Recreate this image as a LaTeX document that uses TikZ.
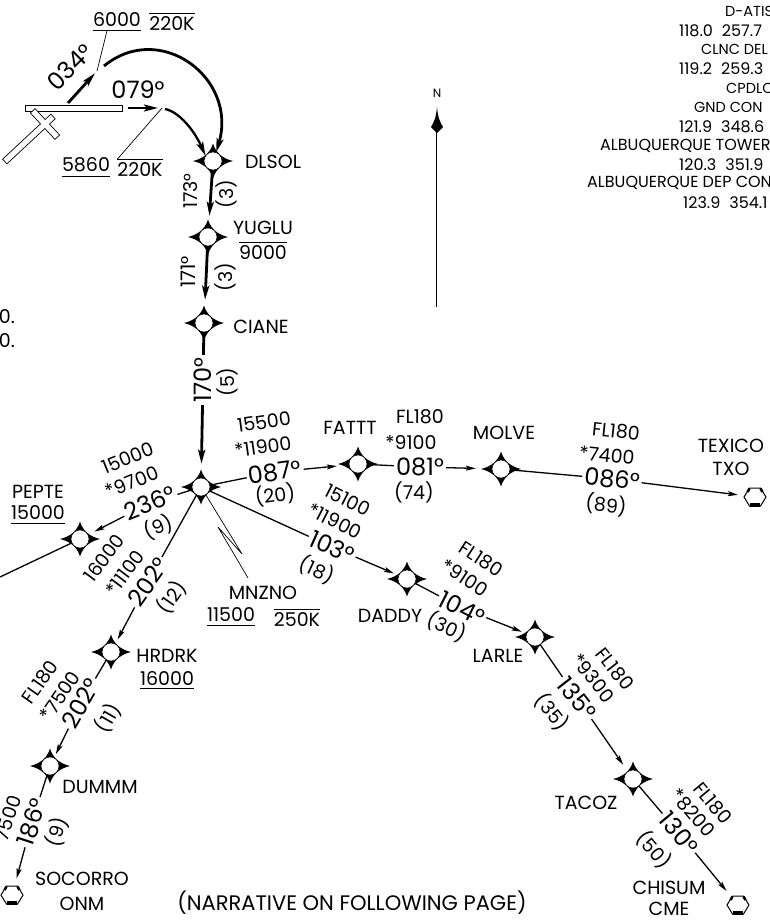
\documentclass[tikz,border=0pt]{standalone}
\usepackage{fontspec}
\setmainfont{Poppins}[Numbers=Monospaced]
\usetikzlibrary{arrows.meta}
\begin{document}
\begin{tikzpicture}[x=1pt, y=-1pt,
txt/.style={inner sep=0pt, font=\fontsize{19}{21}\selectfont},
hdg/.style={inner sep=2pt, font=\fontsize{24}{26}\selectfont},
freq/.style={inner sep=0pt, anchor=west, font=\fontsize{16}{18}\selectfont},
freqsmall/.style={freq, font=\fontsize{14.5}{16}\selectfont},
underalt/.style={inner ysep=3.5pt, append after command={(\tikzlastnode.south west) edge[line width=.7pt] (\tikzlastnode.south east)}},
overalt/.style={inner ysep=3.5pt, append after command={(\tikzlastnode.north west) edge[line width=.7pt] (\tikzlastnode.north east)}},
fixnode/.style={circle, inner sep=0pt, minimum size=18pt},
navnode/.style={circle, inner sep=0pt, minimum size=20pt},
route/.style={line width=1.3pt},
routearrow/.style={line width=1.3pt, -{Stealth[length=10pt,width=5pt,inset=2pt]}},
heavy/.style={line width=2.8pt, -{Stealth[length=14pt,width=7pt,inset=3pt]}},
leader/.style={line width=.7pt},
fixstar/.pic={
  \fill (0,-17.5) .. controls (2.5,-9) and (9,-2.5) .. (20,0) .. controls (9,2.5) and (2.5,9) .. (0,17.5) .. controls (-2.5,9) and (-9,2.5) .. (-20,0) .. controls (-9,-2.5) and (-2.5,-9) .. (0,-17.5) -- cycle;
  \draw[line width=.5pt, fill=white] (0,0) circle [radius=9];
},
navhex/.pic={
  \draw[line width=1pt, fill=white] (-5.5,-9) -- (5.5,-9) -- (11,0) -- (5.5,9) -- (-5.5,9) -- (-11,0) -- cycle;
  \draw[line width=2.5pt] (-5.5,-8.5) -- (-7.5,-5);
  \draw[line width=2.5pt] (5.5,-8.5) -- (7.5,-5);
  \draw[line width=3.5pt] (-5,8) -- (5,8);
},
]
\useasboundingbox (0,0) rectangle (770,922);
\clip (0,0) rectangle (770,922);

%Fixes
\node[fixnode] (dlsol) at (213,161) {};
\node[fixnode] (yuglu) at (208,237) {};
\node[fixnode] (ciane) at (204,323) {};
\node[fixnode] (mnzno) at (201,487) {};
\node[fixnode] (fattt) at (358,464) {};
\node[fixnode] (molve) at (501,469) {};
\node[fixnode] (pepte) at (80,539) {};
\node[fixnode] (hrdrk) at (111,652) {};
\node[fixnode] (dummm) at (50,766) {};
\node[fixnode] (daddy) at (407,579) {};
\node[fixnode] (larle) at (535,637) {};
\node[fixnode] (tacoz) at (633,779) {};
\node[navnode] (txo) at (755,497) {};
\node[navnode] (onm) at (12,895) {};
\node[navnode] (cme) at (738,905) {};

%Runway
\node[rectangle, draw, fill=white, line width=.7pt, minimum width=97pt, minimum height=6pt, inner sep=0pt] (runway) at (73.5,108) {};
\draw[line width=.7pt, fill=white, shift={(45,124)}, rotate=43]
  (-55,-3.2) -- (-3.2,-3.2) -- (-3.2,-18) -- (3.2,-18) -- (3.2,-3.2) -- (11,-3.2) -- (11,3.2) -- (3.2,3.2) -- (3.2,18) -- (-3.2,18) -- (-3.2,3.2) -- (-55,3.2) -- cycle;

%Names
\node[txt] (dlsollbl) at (273,162) {DLSOL};
\node[txt] (yuglulbl) at (263,228) {YUGLU};
\node[txt] (cianelbl) at (261,327) {CIANE};
\node[txt] (fatttlbl) at (350,428) {FATTT};
\node[txt] (molvelbl) at (504,433) {MOLVE};
\node[txt] (pepteblb) at (38,492) {PEPTE};
\node[txt] (mnznolbl) at (263,593) {MNZNO};
\node[txt] (hrdrklbl) at (167,656) {HRDRK};
\node[txt] (dummmlbl) at (100,787) {DUMMM};
\node[txt] (daddylbl) at (390,616) {DADDY};
\node[txt] (larlelbl) at (498,656) {LARLE};
\node[txt] (tacozlbl) at (586,803) {TACOZ};
\node[txt] (texicolbl) at (731,446) {TEXICO};
\node[txt] (txolbl) at (731,469) {TXO};
\node[txt] (socorrolbl) at (82,879) {SOCORRO};
\node[txt] (onmlbl) at (82,904) {ONM};
\node[txt] (chisumlbl) at (669,888) {CHISUM};
\node[txt] (cmelbl) at (669,909) {CME};
\node[txt, font=\fontsize{21}{23}\selectfont] (narrative) at (352,903) {(NARRATIVE ON FOLLOWING PAGE)};

%Altitudes and speeds
\node[txt, underalt] (alt6000) at (117,20) {6000};
\node[txt, overalt] (spd1) at (172,24) {220K};
\node[txt, underalt] (alt5860) at (86,165) {5860};
\node[txt, overalt] (spd2) at (140,170) {220K};
\node[txt, overalt] (alt9000) at (263,253) {9000};
\node[txt, underalt] (alt15000) at (38,513) {15000};
\node[txt, underalt] (alt11500) at (231,615) {11500};
\node[txt, overalt] (spd3) at (297,620) {250K};
\node[txt, underalt] (alt16000) at (167,678) {16000};

%Headings and distances
\node[hdg, rotate=45] (hdg034) at (70,67) {034°};
\node[hdg] (hdg079) at (138,90) {079°};
\node[hdg, rotate=90, font=\fontsize{19}{21}\selectfont] (hdg173) at (191,191) {173°};
\node[txt, rotate=90] (dist1) at (226,194) {(3)};
\node[hdg, rotate=90, font=\fontsize{20}{22}\selectfont] (hdg171) at (188,272) {171°};
\node[txt, rotate=90] (dist2) at (225,277) {(3)};
\node[hdg, rotate=90] (hdg170) at (203,380) {170°};
\node[txt, rotate=90] (dist3) at (227,382) {(5)};

\node[txt, rotate=8] (min1) at (264,422) {15500};
\node[txt, rotate=8] (mea1) at (263,447) {*11900};
\node[hdg, rotate=8] (hdg087) at (275,472) {087°};
\node[txt, rotate=8] (dist4) at (275,495) {(20)};

\node[txt] (min2) at (420,417) {FL180};
\node[txt] (mea2) at (411,442) {*9100};
\node[hdg] (hdg081) at (420,467) {081°};
\node[txt] (dist5) at (414,492) {(74)};

\node[txt, rotate=-6] (min3) at (616,431) {FL180};
\node[txt, rotate=-6] (mea3) at (607,455) {*7400};
\node[hdg, rotate=-6] (hdg086) at (612,479) {086°};
\node[txt, rotate=-6] (dist6) at (606,505) {(89)};

\node[txt, rotate=22] (min4) at (128,458) {15000};
\node[txt, rotate=22] (mea4) at (132,482) {*9700};
\node[hdg, rotate=22] (hdg236) at (150,503) {236°};
\node[txt, rotate=22] (dist7) at (158,527) {(9)};

\node[txt, rotate=53] (min5) at (104,558) {16000};
\node[txt, rotate=53] (mea5) at (125,573) {*11100};
\node[hdg, rotate=55] (hdg202a) at (148,582) {202°};
\node[txt, rotate=55] (dist8) at (172,597) {(12)};

\node[txt, rotate=-27] (min6) at (348,500) {15100};
\node[txt, rotate=-27] (mea6) at (335,521) {*11900};
\node[hdg, rotate=-24] (hdg103) at (332,547) {103°};
\node[txt, rotate=-25] (dist9) at (317,570) {(18)};

\node[txt, rotate=-33] (min7) at (481,559) {FL180};
\node[txt, rotate=-33] (mea7) at (465,578) {*9100};
\node[hdg, rotate=-27] (hdg104) at (462,608) {104°};
\node[txt, rotate=-25] (dist10) at (447,627) {(30)};

\node[txt, rotate=-52] (min8) at (615,669) {FL180};
\node[txt, rotate=-52] (mea8) at (593,678) {*9300};
\node[hdg, rotate=-52] (hdg135) at (577,698) {135°};
\node[txt, rotate=-52] (dist11) at (552,712) {(35)};

\node[txt, rotate=-50] (min9) at (713,803) {FL180};
\node[txt, rotate=-50] (mea9) at (693,813) {*8200};
\node[hdg, rotate=-50] (hdg130) at (679,833) {130°};
\node[txt, rotate=-50] (dist12) at (654,850) {(50)};

\node[txt, rotate=55] (min10) at (40,682) {FL180};
\node[txt, rotate=55] (mea10) at (60,696) {*7500};
\node[hdg, rotate=60] (hdg202b) at (81,703) {202°};
\node[txt, rotate=60] (dist13) at (108,718) {(11)};

\node[txt, rotate=72] (mea11) at (8,818) {7500};
\node[hdg, rotate=72] (hdg186) at (32,822) {186°};
\node[txt, rotate=72] (dist14) at (57,832) {(9)};

%Frequencies
\node[freqsmall] (freq1) at (725,11) {D-ATIS};
\node[freq] (freq2) at (679,31) {118.0\hspace{9pt}257.7};
\node[freqsmall] (freq3) at (701,49) {CLNC DEL};
\node[freq] (freq4) at (679,69) {119.2\hspace{9pt}259.3};
\node[freqsmall] (freq5) at (726,88) {CPDLC};
\node[freqsmall] (freq6) at (694,107) {GND CON};
\node[freq] (freq7) at (679,127) {121.9\hspace{9pt}348.6};
\node[freq] (freq8) at (600,146) {ALBUQUERQUE TOWER};
\node[freq] (freq9) at (679,165) {120.3\hspace{9pt}351.9};
\node[freq] (freq10) at (587,183) {ALBUQUERQUE DEP CON};
\node[freq] (freq11) at (683,203) {123.9\hspace{9pt}354.1};
\node[txt, anchor=east] (cut1) at (15,317) {0.};
\node[txt, anchor=east] (cut2) at (15,341) {0.};

%Lines
\coordinate (turn1) at (97,71);
\coordinate (turn2) at (162,108);
\coordinate (rwy1) at (68,103);
\coordinate (rwy2) at (128,108);
\coordinate (arc1) at (104,66);
\coordinate (arc2) at (165,109);
\coordinate (inbound) at (0,577);
\coordinate (brk1) at (242,554);
\coordinate (brk2) at (218,527);
\coordinate (mnzlead) at (248,578);
\draw[heavy, shorten >=3pt] (rwy1) -- (turn1);
\draw[heavy, line width=2.5pt, shorten >=4pt] (rwy2) -- (turn2);
\draw[leader] (alt6000.south) ++(-10,0) -- (turn1);
\draw[leader] (spd2.north west) -- (turn2);
\draw[heavy] (arc1) .. controls (160,20) and (238,78) .. (dlsol.70);
\draw[heavy, line width=2.3pt] (arc2) .. controls (180,112) and (195,132) .. (dlsol.145);
\draw[heavy, shorten >=12pt] (dlsol) -- (yuglu);
\draw[heavy, shorten >=14pt] (yuglu) -- (ciane);
\draw[line width=2.8pt] (ciane) -- (hdg170);
\draw[heavy, shorten >=14pt] (hdg170) -- (mnzno);
\draw[route] (mnzno) -- (hdg087);
\draw[routearrow, shorten >=12pt] (hdg087) -- (fattt);
\draw[route] (fattt) -- (hdg081);
\draw[routearrow, shorten >=16pt] (hdg081) -- (molve);
\draw[route] (molve) -- (hdg086);
\draw[routearrow, shorten >=7pt] (hdg086) -- (txo);
\draw[route] (mnzno) -- (hdg236);
\draw[routearrow, shorten >=7pt] (hdg236) -- (pepte);
\draw[route] (mnzno) -- (hdg202a);
\draw[routearrow, shorten >=5pt] (hdg202a) -- (hrdrk);
\draw[route] (hrdrk) -- (hdg202b);
\draw[routearrow, shorten >=4pt] (hdg202b) -- (dummm);
\draw[route] (dummm) -- (hdg186);
\draw[routearrow, shorten >=7pt] (hdg186) -- (onm);
\draw[route] (mnzno) -- (hdg103);
\draw[routearrow, shorten >=5pt] (hdg103) -- (daddy);
\draw[route] (daddy) -- (hdg104);
\draw[routearrow, shorten >=5pt] (hdg104) -- (larle);
\draw[route] (larle) -- (hdg135);
\draw[routearrow, shorten >=8pt] (hdg135) -- (tacoz);
\draw[route] (tacoz) -- (hdg130);
\draw[routearrow, shorten >=8pt] (hdg130) -- (cme);
\draw[route] (inbound) -- (pepte);
\draw[leader] (mnzno) -- (brk1) -- (brk2) -- (mnzlead);

%North arrow
\node[inner sep=0pt, font=\fontsize{12}{13}\selectfont] (north) at (437,93) {N};
\coordinate (ntail) at (436,307);
\coordinate (ntip) at (436,130);
\draw[line width=.8pt] (ntail) -- (ntip);
\fill (437,107) .. controls (438,118) and (440,122) .. (443,127) -- (437,133) -- (431,127) .. controls (434,122) and (436,118) .. (437,107) -- cycle;

%Symbols
\foreach \fix in {dlsol,yuglu,ciane,mnzno,fattt,molve,pepte,hrdrk,dummm,daddy,larle,tacoz}
  \pic at (\fix) {fixstar};
\foreach \nav in {txo,onm,cme}
  \pic at (\nav) {navhex};
\end{tikzpicture}
\end{document}
